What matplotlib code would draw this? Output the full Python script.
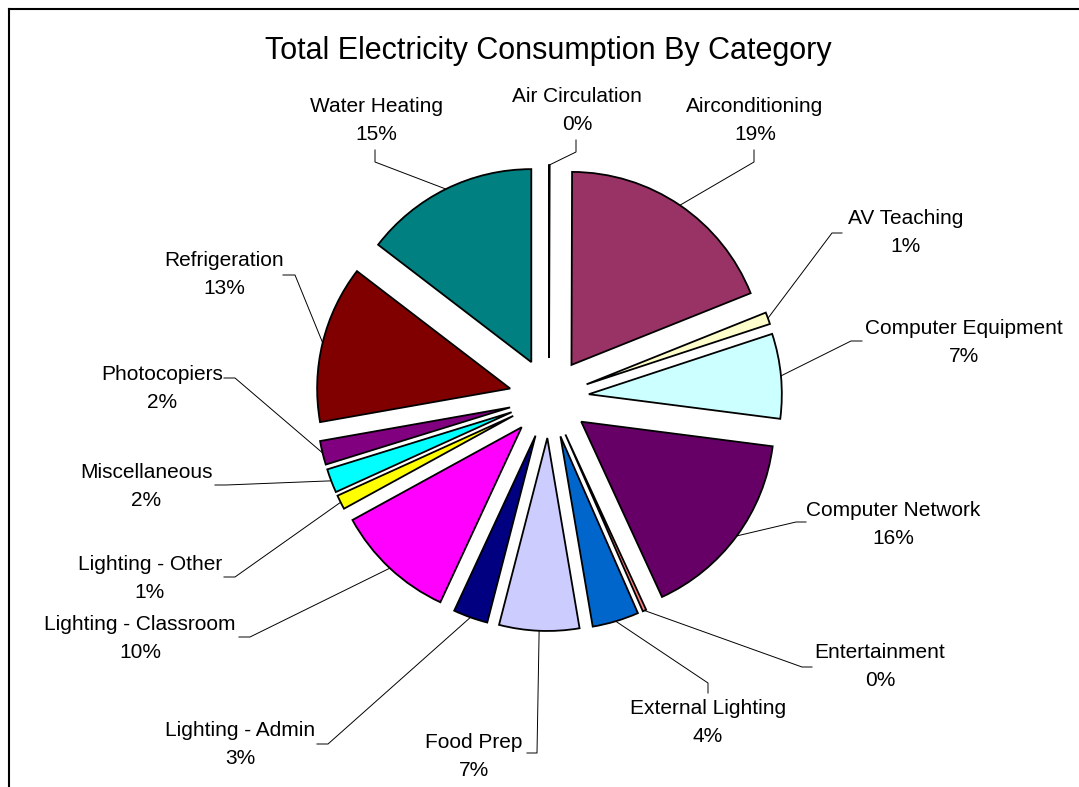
import matplotlib
matplotlib.use('Agg')
import matplotlib.pyplot as plt
import numpy as np

plt.rcParams['font.family'] = ['Liberation Sans', 'DejaVu Sans']

W, H = 1079, 787

categories = ['Air Circulation', 'Airconditioning', 'AV Teaching', 'Computer Equipment',
              'Computer Network', 'Entertainment', 'External Lighting', 'Food Prep',
              'Lighting - Admin', 'Lighting - Classroom', 'Lighting - Other', 'Miscellaneous',
              'Photocopiers', 'Refrigeration', 'Water Heating']
values = [0.05, 18.9, 1.0, 7.1, 16.1, 0.3, 3.9, 6.7, 2.9, 10.1, 1.2, 2.0, 2.0, 13.2, 14.6]
colors = ['#9999FF', '#993366', '#FFFFCC', '#CCFFFF', '#660066', '#FF8080', '#0066CC', '#CCCCFF',
          '#000080', '#FF00FF', '#FFFF00', '#00FFFF', '#800080', '#800000', '#008080']

# layout, in picture pixels (y down)
cx, cy = 549, 398
radius = 193
gap = 40
label_pos = [(577, 111), (755, 120), (906, 233), (964, 342), (893, 524), (880, 667),
             (708, 723), (474, 757), (240, 744), (140, 638), (150, 578), (146, 486),
             (162, 388), (224, 275), (376, 120)]
# leader stub: start point (at label) and elbow point
stubs = [((576, 140), (576, 152)), ((754, 150), (754, 162)), ((842, 233), (832, 233)),
         ((862, 341), (851, 341)), ((806, 522), (796, 522)), ((812, 667), (802, 667)),
         ((708, 693), (708, 683)), ((527, 753), (537, 753)), ((317, 744), (328, 744)),
         ((239, 637), (250, 637)), ((224, 577), (235, 577)), ((215, 485), (226, 485)),
         ((224, 378), (235, 378)), ((283, 275), (295, 275)), ((375, 150), (375, 162))]


def Y(y):
    return H - y


fig = plt.figure(figsize=(W / 100, H / 100), dpi=100)
ax = fig.add_axes([0, 0, 1, 1])

wedges, _ = ax.pie(values, colors=colors, startangle=90, counterclock=False,
                   explode=[gap] * len(values), radius=radius, center=(cx, Y(cy)),
                   wedgeprops=dict(edgecolor='black', linewidth=1.3), frame=True)
ax.set_xlim(0, W)
ax.set_ylim(0, H)
ax.set_aspect('equal')
ax.axis('off')

total = sum(values)
for w, name, v, (lx, ly), (s0, s1) in zip(wedges, categories, values, label_pos, stubs):
    th = np.deg2rad((w.theta1 + w.theta2) / 2)
    ax_, ay_ = cx + (radius + gap) * np.cos(th), Y(cy) + (radius + gap) * np.sin(th)
    ax.plot([s0[0], s1[0], ax_], [Y(s0[1]), Y(s1[1]), ay_], color='black', lw=0.7)
    ax.text(lx, Y(ly), '%s\n%.0f%%' % (name, 100 * v / total), ha='center', va='center',
            fontsize=15, linespacing=1.6, color='black')

ax.text(548, Y(51), 'Total Electricity Consumption By Category', ha='center', va='center',
        fontsize=22)

# chart border (only left and top are inside the picture)
fig.add_artist(plt.Line2D([8.5 / W, 8.5 / W], [0, 1 - 8.5 / H], transform=fig.transFigure,
                          color='black', lw=1.5))
fig.add_artist(plt.Line2D([8.5 / W, 1], [1 - 8.5 / H, 1 - 8.5 / H], transform=fig.transFigure,
                          color='black', lw=1.5))

fig.savefig('out.png', dpi=100)
